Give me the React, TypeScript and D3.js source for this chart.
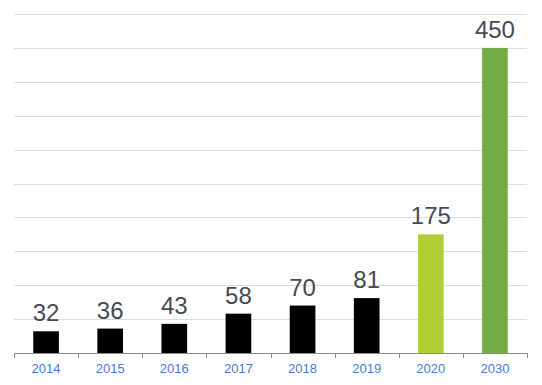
import React from "react";
import * as d3 from "d3";

const years = ["2014", "2015", "2016", "2017", "2018", "2019", "2020", "2030"];
const values = [32, 36, 43, 58, 70, 81, 175, 450];
const barColors = ["#000000", "#000000", "#000000", "#000000", "#000000", "#000000", "#b0cf34", "#72ad48"];
const yTicks = [50, 100, 150, 200, 250, 300, 350, 400, 450, 500];

const W = 542;
const H = 385;
const left = 14;
const right = 527;
const top = 14;
const bottom = 353;

export default function App() {
  const x = d3.scaleBand<string>().domain(years).range([left, right]).paddingInner(0.6).paddingOuter(0.3);
  const band = d3.scaleBand<string>().domain(years).range([left, right]);
  const y = d3.scaleLinear().domain([0, 500]).range([bottom, top]);
  const tickXs = [left, ...years.map((yr) => (band(yr) as number) + band.bandwidth())];

  return (
    <svg width={W} height={H} style={{ position: "absolute", left: 0, top: 0 }} fontFamily="Arial, 'Liberation Sans', sans-serif">
      {yTicks.map((t) => (
        <line key={t} x1={left} x2={right} y1={Math.round(y(t)) + 0.5} y2={Math.round(y(t)) + 0.5} stroke="#dcdcdc" strokeWidth={1} />
      ))}
      {years.map((yr, i) => (
        <rect key={yr} x={x(yr)} y={y(values[i])} width={x.bandwidth()} height={bottom - y(values[i])} fill={barColors[i]} />
      ))}
      <line x1={left} x2={right} y1={bottom + 0.5} y2={bottom + 0.5} stroke="#8c8c8c" strokeWidth={1} />
      {tickXs.map((tx, i) => (
        <line key={i} x1={Math.round(tx) + 0.5} x2={Math.round(tx) + 0.5} y1={bottom} y2={bottom + 5} stroke="#8c8c8c" strokeWidth={1} />
      ))}
      {years.map((yr, i) => (
        <text key={"v" + yr} x={(x(yr) as number) + x.bandwidth() / 2} y={y(values[i]) - 10} textAnchor="middle" fontSize={24} fill="#444a55">
          {values[i]}
        </text>
      ))}
      {years.map((yr) => (
        <text key={"t" + yr} x={(band(yr) as number) + band.bandwidth() / 2} y={373} textAnchor="middle" fontSize={13} fill="#4a78d6">
          {yr}
        </text>
      ))}
    </svg>
  );
}
